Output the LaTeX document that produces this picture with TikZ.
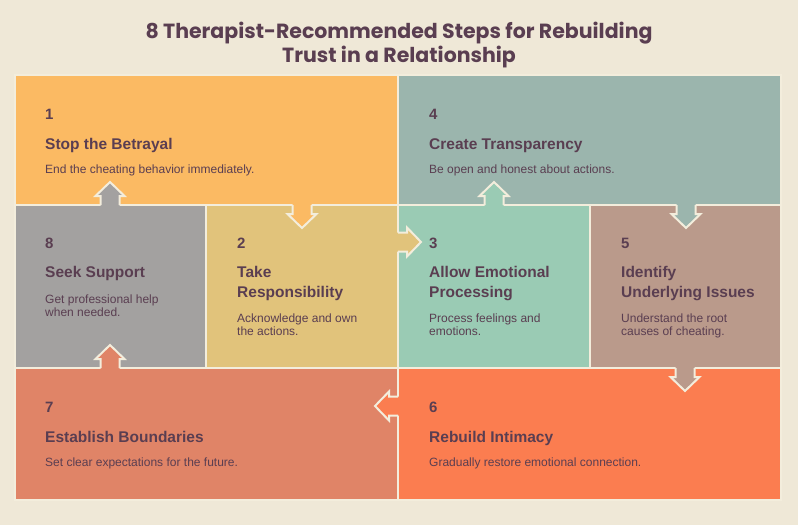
\documentclass[tikz,border=0pt]{standalone}
\usepackage{fontspec}
\setmainfont{Liberation Sans}
\newfontfamily\titlefont{Poppins}
\definecolor{bg}{HTML}{EFE8D7}
\definecolor{bord}{HTML}{F3EDDC}
\definecolor{txt}{HTML}{5A3E51}
\definecolor{cA}{HTML}{FBBA63}
\definecolor{cB}{HTML}{E1C37B}
\definecolor{cC}{HTML}{9ACBB4}
\definecolor{cD}{HTML}{9BB5AD}
\definecolor{cE}{HTML}{BA9A8B}
\definecolor{cF}{HTML}{FB7D50}
\definecolor{cG}{HTML}{E08467}
\definecolor{cH}{HTML}{A3A1A0}
\tikzset{
  box/.style={draw=bord, line width=2pt},
  num/.style={anchor=base west, inner sep=0pt, text=txt, font=\fontsize{15}{18}\selectfont\bfseries},
  ttl/.style={anchor=base west, inner sep=0pt, text=txt, align=left, font=\fontsize{15.5}{20}\selectfont\bfseries},
  dsc/.style={anchor=base west, inner sep=0pt, text=txt, align=left, font=\fontsize{12}{13.4}\selectfont},
  pics/darr/.style={code={
    \fill[#1] (-9.5,-2.5) -- (-9.5,9) -- (-14.5,9) -- (0,23) -- (14.5,9) -- (9.5,9) -- (9.5,-2.5) -- cycle;
    \draw[draw=bord, line width=2pt, line join=miter] (-9.5,0) -- (-9.5,9) -- (-14.5,9) -- (0,23) -- (14.5,9) -- (9.5,9) -- (9.5,0);
  }}
}
\begin{document}
\begin{tikzpicture}[x=1pt,y=-1pt]
\fill[bg] (0,0) rectangle (798,525);
\useasboundingbox (0,0) rectangle (798,525);
% title
\node[text=txt, font=\titlefont\bfseries\fontsize{20.5}{24}\selectfont, align=center] (title) at (399,45) {8 Therapist-Recommended Steps for Rebuilding\\Trust in a Relationship};
% boxes
\path[box, fill=cA] (15,75) rectangle (398,205);
\path[box, fill=cD] (398,75) rectangle (781,205);
\path[box, fill=cH] (15,205) rectangle (206,368);
\path[box, fill=cB] (206,205) rectangle (398,368);
\path[box, fill=cC] (398,205) rectangle (590,368);
\path[box, fill=cE] (590,205) rectangle (781,368);
\path[box, fill=cG] (15,368) rectangle (398,500);
\path[box, fill=cF] (398,368) rectangle (781,500);
% arrows
\pic[rotate=180] at (110,205) {darr=cH};
\pic at (302,205) {darr=cA};
\pic[rotate=90] at (398,242) {darr=cB};
\pic[rotate=180] at (494,205) {darr=cC};
\pic at (686,205) {darr=cD};
\pic at (685,368) {darr=cE};
\pic[rotate=-90] at (398,406) {darr=cF};
\pic[rotate=180] at (110,368) {darr=cG};
% texts (multi-line nodes are placed by their last baseline)
\node[num] (n1) at (45,119) {1};
\node[ttl] (t1) at (45,149) {Stop the Betrayal};
\node[dsc] (d1) at (45,173.5) {End the cheating behavior immediately.};
\node[num] (n4) at (429,119) {4};
\node[ttl] (t4) at (429,149) {Create Transparency};
\node[dsc] (d4) at (429,173.5) {Be open and honest about actions.};
\node[num] (n8) at (45,248.5) {8};
\node[ttl] (t8) at (45,277) {Seek Support};
\node[dsc] (d8) at (45,316.8) {Get professional help\\when needed.};
\node[num] (n2) at (237,248.5) {2};
\node[ttl] (t2) at (237,297) {Take\\Responsibility};
\node[dsc] (d2) at (237,335.4) {Acknowledge and own\\the actions.};
\node[num] (n3) at (429,248.5) {3};
\node[ttl] (t3) at (429,297) {Allow Emotional\\Processing};
\node[dsc] (d3) at (429,335.4) {Process feelings and\\emotions.};
\node[num] (n5) at (621,248.5) {5};
\node[ttl] (t5) at (621,297) {Identify\\Underlying Issues};
\node[dsc] (d5) at (621,335.4) {Understand the root\\causes of cheating.};
\node[num] (n7) at (45,412) {7};
\node[ttl] (t7) at (45,442) {Establish Boundaries};
\node[dsc] (d7) at (45,466.5) {Set clear expectations for the future.};
\node[num] (n6) at (429,412) {6};
\node[ttl] (t6) at (429,442) {Rebuild Intimacy};
\node[dsc] (d6) at (429,466.5) {Gradually restore emotional connection.};
\end{tikzpicture}
\end{document}
